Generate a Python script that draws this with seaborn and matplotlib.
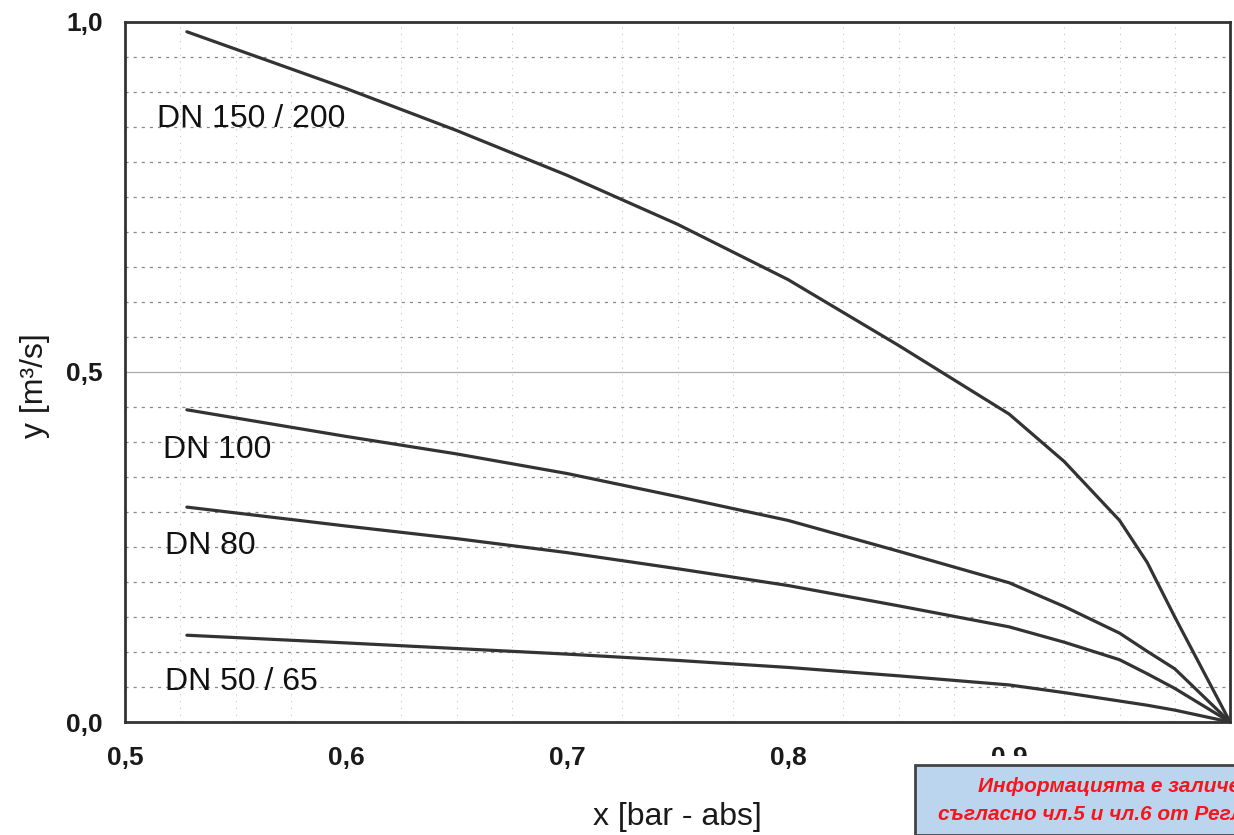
import numpy as np
import pandas as pd
import seaborn as sns
import matplotlib.pyplot as plt
from matplotlib.ticker import MultipleLocator, FuncFormatter

# valeurs
x_pts = [0.528, 0.6, 0.65, 0.7, 0.75, 0.8, 0.85, 0.9, 0.925, 0.95, 0.9625, 0.975, 1.0]
y_dn150 = [0.986, 0.905, 0.845, 0.781, 0.711, 0.632, 0.538, 0.440, 0.372, 0.288, 0.228, 0.150, 0.0]
y_dn100 = [0.446, 0.408, 0.383, 0.355, 0.322, 0.288, 0.244, 0.199, 0.165, 0.127, 0.101, 0.076, 0.0]
y_dn80 = [0.307, 0.280, 0.262, 0.242, 0.219, 0.195, 0.166, 0.136, 0.114, 0.089, 0.069, 0.048, 0.0]
y_dn50 = [0.124, 0.113, 0.105, 0.097, 0.088, 0.078, 0.066, 0.053, 0.042, 0.030, 0.024, 0.017, 0.0]

labels = ["DN 150 / 200", "DN 100", "DN 80", "DN 50 / 65"]
label_pos = [(0.5145, 0.862), (0.517, 0.389), (0.518, 0.251), (0.518, 0.057)]

x_ticks = [0.5, 0.6, 0.7, 0.8, 0.9]
y_ticks = [0.0, 0.5, 1.0]

df = pd.DataFrame({
    "x": x_pts * 4,
    "y": y_dn150 + y_dn100 + y_dn80 + y_dn50,
    "serie": [l for l in labels for _ in x_pts],
})

sns.set_style("white")
plt.rcParams['font.family'] = ['Liberation Sans', 'DejaVu Sans']

fig = plt.figure(figsize=(12.34, 8.35), dpi=100)
ax = fig.add_axes([0.1013, 0.1353, 0.8955, 0.8384])

sns.lineplot(data=df, x="x", y="y", units="serie", estimator=None,
             color="#333333", linewidth=2.3, ax=ax, sort=False)

for lab, (lx, ly) in zip(labels, label_pos):
    ax.text(lx, ly, lab, fontsize=23, color="#111111", va="center", ha="left")

ax.set_xlim(0.5, 1.0)
ax.set_ylim(0.0, 1.0)
ax.set_xticks(x_ticks)
ax.set_yticks(y_ticks)
ax.xaxis.set_minor_locator(MultipleLocator(0.025))
ax.yaxis.set_minor_locator(MultipleLocator(0.05))
fmt = FuncFormatter(lambda v, p: f"{v:.1f}".replace(".", ","))
ax.xaxis.set_major_formatter(fmt)
ax.yaxis.set_major_formatter(fmt)

ax.grid(which="major", axis="y", color="#aaaaaa", linewidth=0.9)
ax.grid(which="minor", axis="y", color="#888888", linewidth=0.9, linestyle=(0, (2.5, 4)))
ax.grid(which="minor", axis="x", color="#bbbbbb", linewidth=0.7, linestyle=(0, (1, 6)))

ax.tick_params(axis="both", which="both", length=0, labelsize=19, colors="#1a1a1a")
ax.tick_params(axis="x", pad=17)
ax.tick_params(axis="y", pad=16)
for lbl in ax.get_xticklabels() + ax.get_yticklabels():
    lbl.set_fontweight("bold")
for s in ax.spines.values():
    s.set_color("#333333")
    s.set_linewidth(2)

ax.set_xlabel("x [bar - abs]", fontsize=23, color="#1a1a1a", labelpad=23)
ax.set_ylabel("y [m³/s]", fontsize=23, color="#1a1a1a")
ax.yaxis.set_label_coords(-0.068, 0.481)

# tampon d'anonymisation
pad = plt.Rectangle((905 / 1234, 0), 0.3, 79 / 835, transform=fig.transFigure,
                    facecolor="white", edgecolor="none", zorder=9)
box = plt.Rectangle((915 / 1234, 0), 0.3, 70 / 835, transform=fig.transFigure,
                    facecolor="#bcd5ee", edgecolor="#444444", linewidth=2, zorder=10)
fig.patches.extend([pad, box])
fig.text(978 / 1234, 1 - 792 / 835, "Информацията е заличена", color="#f5161c",
         fontsize=15, style="italic", weight="bold", ha="left", va="baseline", zorder=11)
fig.text(938 / 1234, 1 - 820 / 835, "съгласно чл.5 и чл.6 от Регламент", color="#f5161c",
         fontsize=15, style="italic", weight="bold", ha="left", va="baseline", zorder=11)

fig.savefig("out.png", dpi=100)
